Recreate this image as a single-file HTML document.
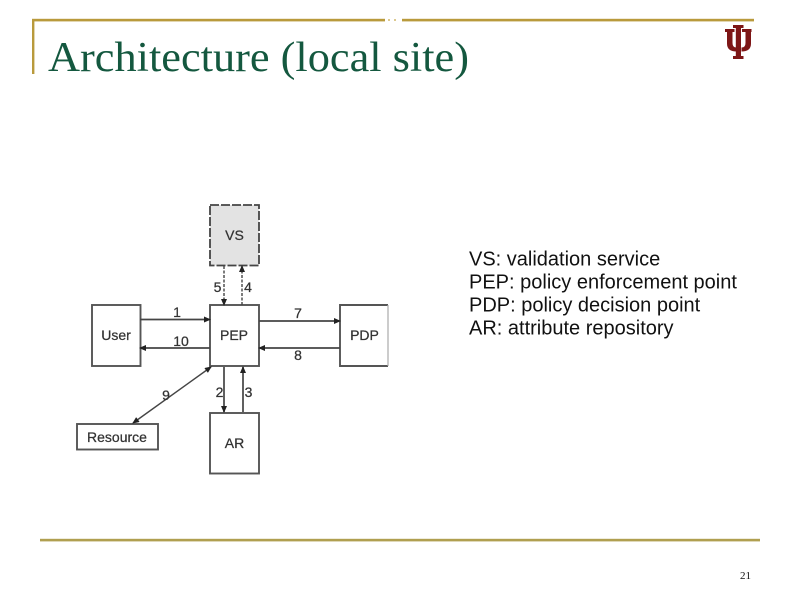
<!DOCTYPE html>
<html>
<head>
<meta charset="utf-8">
<style>
html,body{margin:0;padding:0;background:#fff;}
body{width:800px;height:600px;overflow:hidden;position:relative;}
svg{position:absolute;left:0;top:0;}
</style>
</head>
<body>
<svg width="800" height="600" viewBox="0 0 800 600" xmlns="http://www.w3.org/2000/svg">
<defs>
<marker id="a" markerWidth="7" markerHeight="6" refX="6" refY="3" orient="auto-start-reverse" markerUnits="userSpaceOnUse"><path d="M0,0 L7,3 L0,6 Z" fill="#222"/></marker>
<filter id="b" x="-5%" y="-5%" width="110%" height="110%"><feGaussianBlur stdDeviation="0.35"/></filter>
</defs>
<rect width="800" height="600" fill="#fff"/>
<!-- frame -->
<rect x="32" y="18.800" width="353" height="2.600" fill="#b99a3c"/>
<rect x="402" y="18.800" width="352" height="2.600" fill="#b99a3c"/>
<rect x="388" y="19" width="2" height="2" fill="#dcc98f"/>
<rect x="394" y="19" width="2" height="2" fill="#dcc98f"/>
<rect x="32" y="19" width="2.400" height="55" fill="#b99a3c"/>
<rect x="40" y="538.800" width="720" height="2.600" fill="#b09f50"/>
<!-- title -->
<text x="48" y="71" font-family="'Liberation Serif',serif" font-size="42" fill="#14583f" textLength="421" lengthAdjust="spacingAndGlyphs">Architecture (local site)</text>
<!-- logo -->
<g fill="#7d1418" filter="url(#b)">
<rect x="733" y="25" width="10.500" height="3"/>
<rect x="735.800" y="25" width="5.200" height="34"/>
<rect x="733" y="56" width="10.500" height="3"/>
<rect x="725" y="29" width="9.500" height="3"/>
<rect x="742" y="29" width="9.500" height="3"/>
<path d="M727,29 h5.500 v14 q0,4.500 4,4.500 v4 q-9.500,0 -9.500,-8 Z"/>
<path d="M751,29 h-5.500 v14 q0,4.500 -4,4.500 v4 q9.500,0 9.500,-8 Z"/>
</g>
<g filter="url(#b)">
<!-- boxes -->
<g stroke="#555" stroke-width="1.900" fill="#fff">
<rect x="92" y="305" width="48.500" height="61"/>
<rect x="210" y="305" width="49" height="61"/>
<path d="M388,305 H340 V366 H388"/>
<rect x="77" y="424" width="81" height="25.500"/>
<rect x="210" y="413" width="49" height="60.500"/>
</g>
<path d="M388,305 V366" stroke="#aaa" stroke-width="1.200"/>
<rect x="210" y="205" width="49" height="60.500" fill="#e3e3e3" stroke="#444" stroke-width="1.800" stroke-dasharray="9 2"/>
<!-- connectors -->
<g stroke="#444" stroke-width="1.700" fill="none">
<line x1="140" y1="319.500" x2="210" y2="319.500" marker-end="url(#a)"/>
<line x1="210" y1="348" x2="140" y2="348" marker-end="url(#a)"/>
<line x1="259" y1="321" x2="340" y2="321" marker-end="url(#a)"/>
<line x1="340" y1="348" x2="259" y2="348" marker-end="url(#a)"/>
<line x1="224" y1="266" x2="224" y2="305" stroke-width="1.400" stroke-dasharray="3 1.500" marker-end="url(#a)"/>
<line x1="242" y1="305" x2="242" y2="266" stroke-width="1.400" stroke-dasharray="3 1.500" marker-end="url(#a)"/>
<line x1="224" y1="367" x2="224" y2="412" marker-end="url(#a)"/>
<line x1="243" y1="412" x2="243" y2="367" marker-end="url(#a)"/>
<line x1="133" y1="423" x2="211" y2="367" stroke-width="1.400" marker-start="url(#a)" marker-end="url(#a)"/>
</g>
<!-- diagram labels -->
<g font-family="'Liberation Sans',sans-serif" font-size="14" fill="#333" stroke="#333" stroke-width="0.250" text-anchor="middle">
<text x="234.500" y="240">VS</text>
<text x="116" y="340">User</text>
<text x="234" y="340">PEP</text>
<text x="364.500" y="340">PDP</text>
<text x="117" y="442">Resource</text>
<text x="234.500" y="448">AR</text>
<text x="177" y="317">1</text>
<text x="181" y="346">10</text>
<text x="298" y="318">7</text>
<text x="298" y="360">8</text>
<text x="217.500" y="292">5</text>
<text x="248" y="292">4</text>
<text x="219.500" y="397">2</text>
<text x="248.500" y="397">3</text>
<text x="166" y="400">9</text>
</g>
</g>
<!-- legend -->
<g font-family="'Liberation Sans',sans-serif" font-size="20" fill="#111">
<text x="469" y="265.500">VS: validation service</text>
<text x="469" y="288.500">PEP: policy enforcement point</text>
<text x="469" y="311.500">PDP: policy decision point</text>
<text x="469" y="334.500">AR: attribute repository</text>
</g>
<text x="745.500" y="579" font-family="'Liberation Serif',serif" font-size="11" fill="#111" text-anchor="middle">21</text>
</svg>
</body>
</html>
